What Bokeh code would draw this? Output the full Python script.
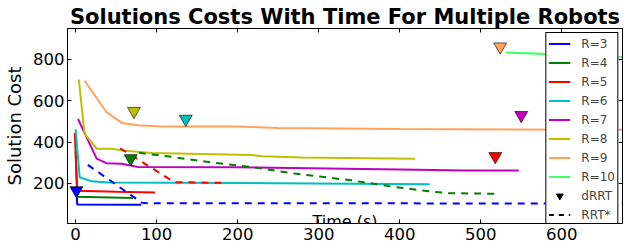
from bokeh.plotting import figure
from bokeh.models import (Range1d, FixedTicker, LinearAxis, Legend, LegendItem, Label,
                          ColumnDataSource, CustomJSTickFormatter)
from bokeh.embed import file_html
from bokeh.resources import INLINE

# ---------------- data ----------------
labels = ["R=3", "R=4", "R=5", "R=6", "R=7", "R=8", "R=9", "R=10"]
colors = ["#0000ff", "#008000", "#ff0000", "#00bfbf", "#bf00bf", "#bfbf00", "#ffa25e", "#44ff66"]

# dRRT solution cost over time (solid)
r3_x = [1, 2, 81]
r3_y = [180, 98, 97]
r4_x = [0, 2, 71]
r4_y = [355, 136, 130]
r5_x = [-1, 2, 50, 98]
r5_y = [445, 165, 160, 156]
r6_x = [0, 5, 20, 40, 200, 437]
r6_y = [462, 230, 210, 205, 202, 196]
r7_x = [3, 26, 38, 57, 77, 200, 400, 480, 547]
r7_y = [512, 320, 298, 295, 280, 278, 268, 262, 262]
r8_x = [4, 11, 26, 44, 57, 94, 217, 230, 279, 419]
r8_y = [703, 441, 368, 368, 360, 347, 338, 331, 325, 320]
r9_x = [11, 38, 57, 77, 106, 200, 250, 400, 675]
r9_y = [697, 546, 493, 482, 476, 475, 468, 463, 460]
r10_x = [531, 675]
r10_y = [834, 812]

# RRT* solution cost over time (dashed)
s3_x = [15, 82, 90, 675]
s3_y = [290, 106, 104, 103]
s4_x = [78, 120, 170, 220, 270, 340, 390, 440, 460, 520]
s4_y = [348, 328, 300, 278, 248, 215, 185, 160, 153, 150]
s5_x = [55, 122, 180]
s5_y = [370, 206, 203]

# dRRT markers
m_x = [1, 68, 518, 136, 550, 72, 524]
m_y = [166, 321, 331, 512, 530, 550, 862]
m_colors = colors[:7]

x_ticks = [0, 100, 200, 300, 400, 500, 600]
y_ticks = [200, 400, 600, 800]

FONT = "DejaVu Sans"

p = figure(width=631, height=252, output_backend="svg", toolbar_location=None,
           x_range=Range1d(-10, 675), y_range=Range1d(6, 950),
           min_border_left=67, min_border_right=9, min_border_top=28, min_border_bottom=29)

p.title.text = "Solutions Costs With Time For Multiple Robots"
p.title.text_font = FONT
p.title.text_font_size = "21px"
p.title.text_font_style = "bold"
p.title.text_color = "black"
p.title.align = "center"
p.title.standoff = 0
p.title.offset = 0

p.xgrid.visible = False
p.ygrid.visible = False
p.outline_line_color = "black"
p.outline_line_width = 1
p.outline_line_alpha = 1
p.background_fill_color = "white"
p.border_fill_color = "white"

for ax, ticks in ((p.xaxis[0], x_ticks), (p.yaxis[0], y_ticks)):
    ax.ticker = FixedTicker(ticks=ticks)
    ax.major_tick_in = 4
    ax.major_tick_out = 0
    ax.minor_tick_in = 0
    ax.minor_tick_out = 0
    ax.major_tick_line_color = "black"
    ax.axis_line_color = "black"
    ax.major_label_text_font = FONT
    ax.major_label_text_font_size = "16.5px"
    ax.major_label_text_color = "black"
p.xaxis.major_label_standoff = 4
p.yaxis.major_label_standoff = 3

p.yaxis.axis_label = "Solution Cost"
p.yaxis.axis_label_text_font = FONT
p.yaxis.axis_label_text_font_size = "18px"
p.yaxis.axis_label_text_font_style = "normal"
p.yaxis.axis_label_text_color = "black"
p.yaxis.axis_label_standoff = 5

blank = CustomJSTickFormatter(code="return ''")
for loc, ticks in (("right", y_ticks), ("above", x_ticks)):
    ax = LinearAxis(ticker=FixedTicker(ticks=ticks), formatter=blank,
                    major_tick_in=4, major_tick_out=0,
                    minor_tick_in=0, minor_tick_out=0,
                    major_label_standoff=0, axis_line_color="black")
    p.add_layout(ax, loc)

solid = [(r3_x, r3_y), (r4_x, r4_y), (r5_x, r5_y), (r6_x, r6_y),
         (r7_x, r7_y), (r8_x, r8_y), (r9_x, r9_y), (r10_x, r10_y)]
items = []
for (xs, ys), c, lab in zip(solid, colors, labels):
    r = p.line(xs, ys, line_color=c, line_width=2)
    items.append(LegendItem(label=lab, renderers=[r]))

dashed = [(s3_x, s3_y, colors[0]), (s4_x, s4_y, colors[1]), (s5_x, s5_y, colors[2])]
for xs, ys, c in dashed:
    p.line(xs, ys, line_color=c, line_width=2, line_dash="7 6")

p.scatter(m_x, m_y, marker="inverted_triangle", size=13, fill_color=m_colors,
          line_color="black", line_alpha=0.6, line_width=1)

# legend-only proxies (no visible data)
nan_src = ColumnDataSource(data=dict(x=[float("nan")], y=[float("nan")]))
d_tri = p.scatter("x", "y", source=nan_src, marker="inverted_triangle", size=10,
                  fill_color="black", line_color="black")
d_dash = p.line("x", "y", source=nan_src, line_color="black", line_width=2, line_dash="5 5")
items.append(LegendItem(label="dRRT", renderers=[d_tri]))
items.append(LegendItem(label="RRT*", renderers=[d_dash]))

legend = Legend(items=items, location="top_right", glyph_width=22, glyph_height=17,
                label_height=17, spacing=2, padding=2, margin=4, label_standoff=11,
                label_text_font=FONT, label_text_font_size="12px",
                border_line_color="black", border_line_width=1, border_line_alpha=1,
                background_fill_color="white", background_fill_alpha=1)
p.add_layout(legend)

p.add_layout(Label(x=332.5, y=17, text="Time (s)", text_align="center",
                   text_baseline="alphabetic", text_font=FONT, text_font_size="16px",
                   text_color="black"))

open("out.html", "w").write(file_html(p, INLINE))
